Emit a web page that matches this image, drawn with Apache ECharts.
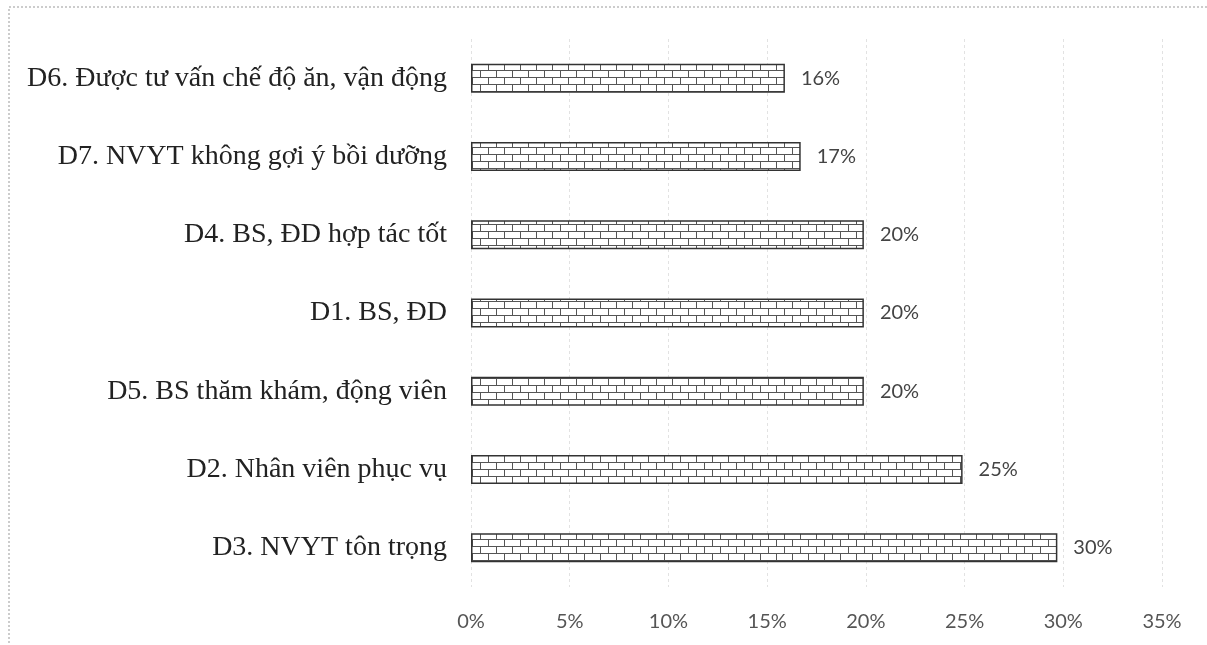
<!DOCTYPE html>
<html>
<head>
<meta charset="utf-8">
<script src="https://cdn.jsdelivr.net/npm/echarts@6/dist/echarts.min.js"></script>
<style>html,body{margin:0;padding:0;background:#fff;}#c{width:1207px;height:645px;}</style>
</head>
<body>
<div id="c"></div>
<script>
const categories = [
  "D6. Được tư vấn chế độ ăn, vận động",
  "D7. NVYT không gợi ý bồi dưỡng",
  "D4. BS, ĐD hợp tác tốt",
  "D1. BS, ĐD",
  "D5. BS thăm khám, động viên",
  "D2. Nhân viên phục vụ",
  "D3. NVYT tôn trọng"
];
const values = [15.9, 16.7, 19.9, 19.9, 19.9, 24.9, 29.7];
const valueLabels = ["16%", "17%", "20%", "20%", "20%", "25%", "30%"];

function brick() {
  const c = document.createElement('canvas');
  c.width = 16; c.height = 14;
  const g = c.getContext('2d');
  g.fillStyle = '#fff'; g.fillRect(0, 0, 16, 14);
  g.strokeStyle = '#555'; g.lineWidth = 1;
  g.beginPath();
  g.moveTo(0, 0.5); g.lineTo(16, 0.5);
  g.moveTo(0, 7.5); g.lineTo(16, 7.5);
  g.moveTo(0.5, 0); g.lineTo(0.5, 7);
  g.moveTo(8.5, 7); g.lineTo(8.5, 14);
  g.stroke();
  return c;
}

const chart = echarts.init(document.getElementById('c'));
chart.setOption({
  animation: false,
  backgroundColor: '#fff',
  grid: { left: 471, right: 45, top: 39, bottom: 58 },
  xAxis: {
    type: 'value', min: 0, max: 35, interval: 5,
    axisLine: { show: false }, axisTick: { show: false },
    splitLine: { show: true, lineStyle: { color: '#e2e2e2', type: [3, 3] } },
    axisLabel: { formatter: v => v + '%', fontFamily: 'Lato', fontSize: 20, color: '#555', margin: 25 }
  },
  yAxis: {
    type: 'category', data: categories, inverse: true,
    axisLine: { show: false }, axisTick: { show: false },
    axisLabel: { fontFamily: 'Liberation Serif', fontSize: 28, color: '#222', margin: 24 }
  },
  series: [{
    type: 'bar', data: values, barWidth: 29,
    itemStyle: { color: { image: brick(), repeat: 'repeat' }, borderColor: '#333', borderWidth: 1.5 },
    label: {
      show: true, position: 'right', distance: 16,
      formatter: p => valueLabels[p.dataIndex],
      fontFamily: 'Lato', fontSize: 20, color: '#444'
    }
  }],
  graphic: [{
    type: 'rect', silent: true,
    shape: { x: 9, y: 7, width: 1220, height: 660 },
    style: { fill: 'none', stroke: '#999', lineWidth: 1, lineDash: [2, 2] }
  }]
});
</script>
</body>
</html>
